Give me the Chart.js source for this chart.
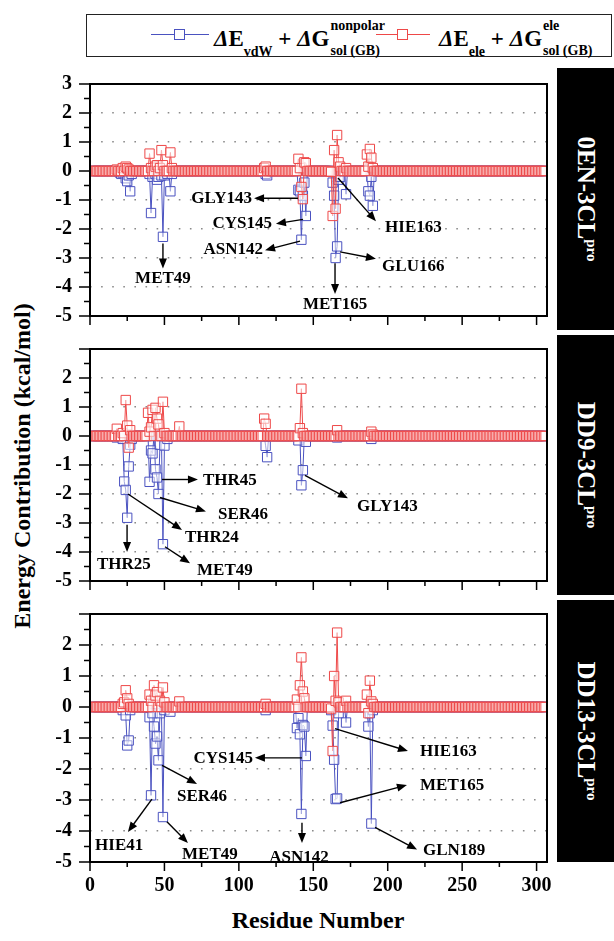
<!DOCTYPE html>
<html>
<head>
<meta charset="utf-8">
<script src="https://cdn.jsdelivr.net/npm/chart.js@4.4.1/dist/chart.umd.min.js"></script>
<style>
  body { margin: 0; width: 614px; height: 941px; position: relative; background: #fff; overflow: hidden;
         font-family: "Liberation Serif", "Times New Roman", serif; font-weight: bold; color: #000; }
  canvas { position: absolute; left: 0; }
  #legend { position: absolute; left: 86px; top: 14px; width: 524px; height: 41px; border: 1.5px solid #222; }
  .samp { position: absolute; top: 19px; height: 0; border-top: 1.2px solid; }
  .samp b { position: absolute; left: 50%; top: -6px; width: 9px; height: 9px; margin-left: -6px; border: 1.2px solid; background: #fff; }
  .lt { position: absolute; top: 13px; font-size: 23px; line-height: 22px; white-space: nowrap; }
  .sb { font-size: 14px; position: relative; top: 10px; }
  .st { display: inline-block; position: relative; height: 0; font-size: 14px; line-height: 14px; }
  .st .up { position: absolute; left: 1px; top: -27px; }
  .st .dn { position: absolute; left: 1px; top: -2px; }
  .tag { position: absolute; left: 557px; width: 57px; background: #000; }
  .tag span { position: absolute; left: 50%; top: 50%; transform: translate(-50%, -50%) rotate(90deg);
              color: #fff; font-size: 25px; white-space: nowrap; }
  .tag sup { font-size: 15px; }
  #ytitle { position: absolute; left: 22px; top: 466px; transform: translate(-50%, -50%) rotate(-90deg);
            font-size: 24px; white-space: nowrap; }
  #xtitle { position: absolute; left: 318px; top: 920px; transform: translate(-50%, -50%);
            font-size: 24px; white-space: nowrap; }
</style>
</head>
<body>
<div id="legend">
  <div class="samp" style="left:64px;width:58px;color:#4a52c0"><b></b></div>
  <div class="lt" style="left:127px"><i>&Delta;</i>E<span class="sb">vdW</span> + <i>&Delta;</i>G<span class="st" style="width:52px"><span class="up">nonpolar</span><span class="dn">sol (GB)</span></span></div>
  <div class="samp" style="left:289px;width:54px;color:#ee4848"><b></b></div>
  <div class="lt" style="left:352px"><i>&Delta;</i>E<span class="sb">ele</span> + <i>&Delta;</i>G<span class="st" style="width:54px"><span class="up">ele</span><span class="dn">sol (GB)</span></span></div>
</div>
<div class="tag" style="top:68px;height:262px"><span>0EN-3CL<sup>pro</sup></span></div>
<div class="tag" style="top:335px;height:260px"><span>DD9-3CL<sup>pro</sup></span></div>
<div class="tag" style="top:600px;height:262px"><span>DD13-3CL<sup>pro</sup></span></div>
<div id="ytitle">Energy Contribution (kcal/mol)</div>
<div id="xtitle">Residue Number</div>

<canvas id="cA" width="614" height="292" style="top:54px"></canvas>
<canvas id="cB" width="614" height="292" style="top:319px"></canvas>
<canvas id="cC" width="614" height="320" style="top:584px"></canvas>

<script>
const RESIDUES = 306;
const BLUE = '#4a52c0';
const RED = '#ee4848';
const FONT = '"Liberation Serif", "Times New Roman", serif';

// 0EN-3CLpro : residues with a visible contribution (all others ~0)
const vdwResA = [20,21,22,24,25,26,27,28,40,41,42,44,45,46,48,49,50,52,54,55,118,119,140,141,142,143,144,145,163,164,165,166,167,168,172,187,188,189,190];
const vdwA    = [-0.05,-0.1,-0.05,-0.25,-0.35,-0.15,-0.7,-0.1,-0.1,-1.45,-0.2,-0.1,-0.3,-0.2,-0.15,-2.27,-0.15,-0.1,-0.7,-0.1,-0.1,-0.15,-0.65,-0.7,-2.37,-0.85,-0.4,-1.55,-0.4,-0.85,-3.0,-2.6,-0.3,-0.2,-0.8,-0.7,-0.85,-0.2,-1.2];
const eleResA = [18,22,24,25,26,40,41,44,45,47,48,49,54,55,117,118,140,141,142,143,144,145,162,163,164,165,166,167,168,172,186,187,188,189,190];
const eleA    = [0.05,0.1,0.15,0.1,0.05,0.6,0.1,0.15,0.2,0.1,0.72,0.2,0.64,0.1,0.1,0.15,0.42,0.1,-0.55,-0.97,0.3,0.27,-0.03,-1.55,0.72,-1.3,1.24,0.3,0.15,0.1,0.57,0.15,0.76,0.46,0.1];

// DD9-3CLpro
const vdwResB = [18,22,23,24,25,26,27,28,40,41,42,44,45,46,47,49,50,52,118,119,140,142,143,145,166,189];
const vdwB    = [-0.05,-0.1,-1.57,-1.86,-2.82,-1.05,-0.3,-0.1,-1.58,-0.5,-0.6,-1.15,-1.43,-2.0,-0.3,-3.73,-0.33,-0.1,-0.34,-0.73,-0.15,-1.7,-1.18,-0.2,-0.05,-0.1];
const eleResB = [18,22,24,25,26,27,39,40,41,42,44,45,46,49,50,60,117,118,141,142,143,166,189,190];
const eleB    = [0.25,0.1,1.24,0.36,-0.4,0.2,0.8,0.15,0.3,0.9,0.97,0.6,0.4,1.18,0.1,0.33,0.6,0.42,0.27,1.63,0.1,0.2,0.15,0.05];

// DD13-3CLpro
const vdwResC = [22,24,25,26,27,40,41,42,43,44,45,46,47,49,50,54,118,139,140,141,142,143,144,145,162,163,164,165,166,167,172,187,188,189,190];
const vdwC    = [-0.1,-0.27,-1.24,-1.08,-0.1,-0.33,-2.85,-0.2,-0.63,-1.18,-0.95,-1.72,-0.2,-3.55,-0.1,-0.15,-0.1,-0.68,-0.36,-0.88,-3.45,-0.58,-0.63,-1.58,-0.1,-0.6,-1.7,-2.97,-2.95,-0.2,-0.5,-0.63,-0.2,-3.76,-0.1];
const eleResC = [22,23,24,25,26,40,41,43,44,45,47,49,50,60,118,139,141,142,143,144,162,163,164,165,166,167,172,186,187,188,189,190];
const eleC    = [0.1,0.15,0.54,0.28,0.1,0.4,0.2,0.7,0.37,0.48,0.2,0.63,0.15,0.18,0.1,0.24,0.7,1.6,0.5,0.28,-0.05,-1.42,1.0,0.2,2.4,0.15,0.2,0.4,-0.2,0.85,0.18,0.1];

// residue labels with arrows: tail / head / label anchor in data units
const notesA = [
  { t: 'GLY143', tail: [139.7, -0.94], head: [110.2, -0.94], at: [108.8, -0.94], align: 'right' },
  { t: 'CYS145', tail: [143.1, -1.67], head: [124.9, -1.82], at: [122.3, -1.82], align: 'right' },
  { t: 'ASN142', tail: [141.1, -2.42], head: [117.6, -2.73], at: [116.2, -2.72], align: 'right' },
  { t: 'MET49',  tail: [49.0, -2.5],   head: [49.0, -3.36],  at: [49.0, -3.7],   align: 'center' },
  { t: 'HIE163', tail: [166.6, -0.24], head: [192.1, -1.73], at: [198.2, -1.94], align: 'left' },
  { t: 'GLU166', tail: [168.0, -2.79], head: [192.1, -3.03], at: [196.2, -3.3],  align: 'left' },
  { t: 'MET165', tail: [164.6, -3.18], head: [164.6, -4.24], at: [164.6, -4.6],  align: 'center' }
];
const notesB = [
  { t: 'THR45',  tail: [48.4, -1.5],  head: [72.5, -1.5],  at: [75.9, -1.55], align: 'left' },
  { t: 'SER46',  tail: [47.0, -2.12], head: [77.9, -2.6],  at: [86.0, -2.7],  align: 'left' },
  { t: 'THR24',  tail: [25.5, -2.0],  head: [61.8, -3.24], at: [63.8, -3.5],  align: 'left' },
  { t: 'THR25',  tail: [24.9, -3.06], head: [24.9, -4.0],  at: [22.8, -4.45], align: 'center' },
  { t: 'MET49',  tail: [50.4, -3.82], head: [67.2, -4.39], at: [71.9, -4.64], align: 'left' },
  { t: 'GLY143', tail: [144.4, -1.36], head: [173.3, -2.15], at: [179.4, -2.42], align: 'left' }
];
const notesC = [
  { t: 'CYS145', tail: [142.4, -1.64], head: [110.8, -1.64], at: [109.5, -1.67], align: 'right' },
  { t: 'SER46',  tail: [48.4, -1.88],  head: [71.9, -2.48],  at: [58.4, -2.88],  align: 'left' },
  { t: 'HIE41',  tail: [41.6, -2.97],  head: [25.5, -4.03],  at: [3.4, -4.48],   align: 'left' },
  { t: 'MET49',  tail: [51.7, -3.7],   head: [65.8, -4.39],  at: [61.8, -4.76],  align: 'left' },
  { t: 'ASN142', tail: [142.4, -3.73], head: [142.4, -4.39], at: [140.4, -4.85], align: 'center' },
  { t: 'HIE163', tail: [164.6, -0.7],  head: [213.6, -1.42], at: [221.7, -1.45], align: 'left' },
  { t: 'MET165', tail: [168.0, -3.09], head: [212.9, -2.52], at: [221.7, -2.52], align: 'left' },
  { t: 'GLN189', tail: [191.5, -3.88], head: [219.7, -4.6],  at: [223.7, -4.64], align: 'left' }
];

function series(res, vals) {
  const out = [];
  for (let r = 1; r <= RESIDUES; r++) {
    const i = res.indexOf(r);
    out.push({ x: r, y: i < 0 ? 0 : vals[i] });
  }
  return out;
}

function arrow(ctx, x1, y1, x2, y2) {
  const a = Math.atan2(y2 - y1, x2 - x1);
  const L = 10, W = 4;
  ctx.beginPath();
  ctx.moveTo(x1, y1);
  ctx.lineTo(x2 - L * 0.7 * Math.cos(a), y2 - L * 0.7 * Math.sin(a));
  ctx.stroke();
  ctx.beginPath();
  ctx.moveTo(x2, y2);
  ctx.lineTo(x2 - L * Math.cos(a) + W * Math.sin(a), y2 - L * Math.sin(a) - W * Math.cos(a));
  ctx.lineTo(x2 - L * Math.cos(a) - W * Math.sin(a), y2 - L * Math.sin(a) + W * Math.cos(a));
  ctx.closePath();
  ctx.fill();
}

function decor(notes) {
  return {
    id: 'decor',
    afterDraw(chart) {
      const { ctx, chartArea: a, scales: { x, y } } = chart;
      ctx.save();
      ctx.strokeStyle = '#000';
      ctx.fillStyle = '#000';
      ctx.lineWidth = 2;
      ctx.strokeRect(a.left, a.top, a.right - a.left, a.bottom - a.top);
      ctx.lineWidth = 1.5;
      ctx.beginPath();
      for (let v = 0; v <= 300; v += 25) {
        const px = x.getPixelForValue(v);
        ctx.moveTo(px, a.bottom);
        ctx.lineTo(px, a.bottom + (v % 50 === 0 ? 9 : 5));
      }
      for (let v = -5; v <= 3; v += 0.5) {
        const py = y.getPixelForValue(v);
        ctx.moveTo(a.left, py);
        ctx.lineTo(a.left - (Number.isInteger(v) ? 11 : 6), py);
      }
      ctx.stroke();

      ctx.lineWidth = 1.4;
      ctx.font = 'bold 17px ' + FONT;
      ctx.textBaseline = 'middle';
      notes.forEach(n => {
        arrow(ctx, x.getPixelForValue(n.tail[0]), y.getPixelForValue(n.tail[1]),
                   x.getPixelForValue(n.head[0]), y.getPixelForValue(n.head[1]));
        ctx.textAlign = n.align;
        ctx.fillText(n.t, x.getPixelForValue(n.at[0]), y.getPixelForValue(n.at[1]));
      });
      ctx.restore();
    }
  };
}

function panel(id, vdwRes, vdw, eleRes, ele, notes, showX, showTop, padBottom, xh) {
  const tickFont = { family: FONT, size: 20, weight: 'bold' };
  return new Chart(document.getElementById(id), {
    type: 'line',
    data: {
      datasets: [
        { label: 'vdW', data: series(vdwRes, vdw), borderColor: BLUE, borderWidth: 1,
          pointStyle: 'rect', pointRadius: 6.6, pointBorderWidth: 1, pointBorderColor: BLUE,
          pointBackgroundColor: 'rgba(255,255,255,0.5)', tension: 0, order: 2 },
        { label: 'ele', data: series(eleRes, ele), borderColor: RED, borderWidth: 1,
          pointStyle: 'rect', pointRadius: 6.6, pointBorderWidth: 1, pointBorderColor: RED,
          pointBackgroundColor: 'rgba(255,255,255,0.55)', tension: 0, order: 1 }
      ]
    },
    options: {
      responsive: false,
      animation: false,
      layout: { padding: { top: 14, bottom: padBottom, left: 0, right: 67 } },
      plugins: { legend: { display: false }, tooltip: { enabled: false } },
      scales: {
        x: {
          type: 'linear', min: 0, max: 307, position: 'bottom',
          ticks: { display: showX, stepSize: 50, includeBounds: false, padding: 12, color: '#000',
                   font: tickFont, maxRotation: 0 },
          grid: { display: false, drawTicks: false },
          border: { display: false },
          afterFit: s => { s.height = xh; }
        },
        y: {
          min: -5, max: 3,
          ticks: { stepSize: 1, padding: 18, color: '#000', font: tickFont,
                   callback: v => (v === 3 && !showTop) ? '' : String(v) },
          grid: { drawTicks: false, lineWidth: 1.6,
                  color: c => {
                    const v = c.tick ? c.tick.value : 0;
                    return (Number.isInteger(v) && v > -5 && v < 3 && v !== 0) ? '#8a8a8a' : 'rgba(0,0,0,0)';
                  } },
          border: { display: false, dash: [1.6, 9.5] },
          afterFit: s => { s.width = 90; }
        }
      }
    },
    plugins: [decor(notes)]
  });
}

panel('cA', vdwResA, vdwA, eleResA, eleA, notesA, false, true, 14, 0);
panel('cB', vdwResB, vdwB, eleResB, eleB, notesB, false, false, 14, 0);
panel('cC', vdwResC, vdwC, eleResC, eleC, notesC, true, false, 2, 40);
</script>
</body>
</html>
